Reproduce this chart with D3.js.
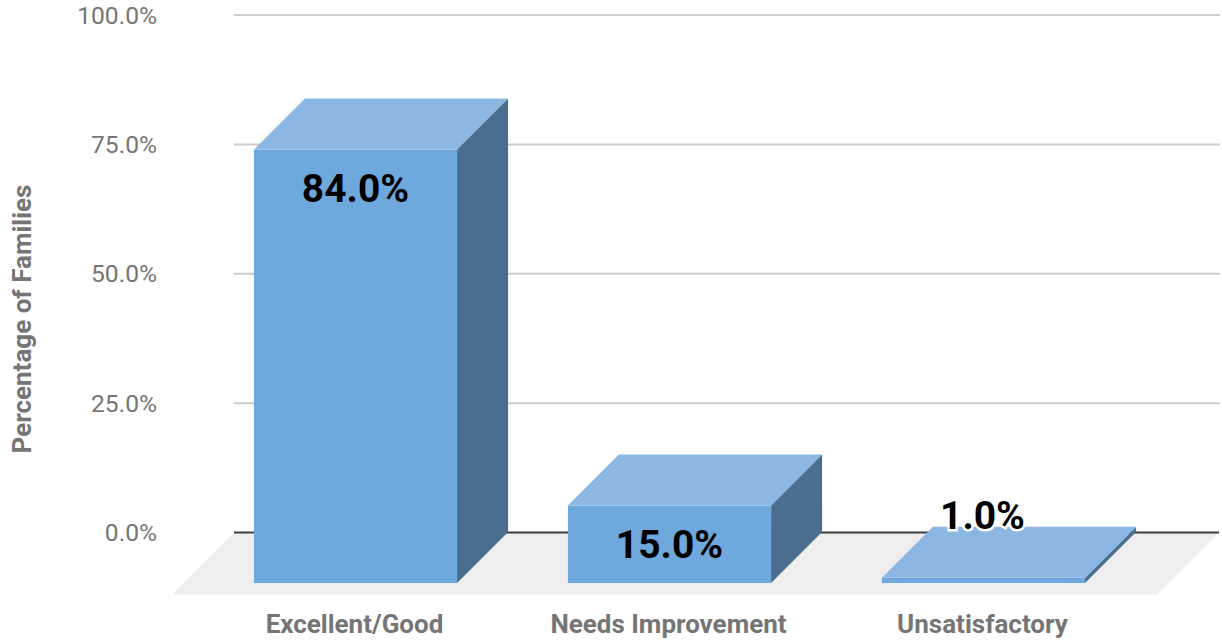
<!DOCTYPE html>
<html><head><meta charset="utf-8">
<script src="https://cdnjs.cloudflare.com/ajax/libs/d3/7.8.5/d3.min.js"></script>
<style>html,body{margin:0;padding:0;background:#fff}svg{display:block}text{font-family:Roboto,sans-serif}</style>
</head><body><svg id="c" width="1222" height="642"></svg>
<script>
const categories = ["Excellent/Good", "Needs Improvement", "Unsatisfactory"];
const values = [84, 15, 1];
const yTicks = [0, 25, 50, 75, 100];
const axisTitle = "Percentage of Families";

const svg = d3.select("#c");
const depth = 51;
const y = d3.scaleLinear().domain([0, 100]).range([532.5, 15]);
const x = d3.scaleBand().domain(categories).range([198.5, 1140.5]).paddingInner(0.353).paddingOuter(0.1765);
const fmt = d3.format(".1f");
const floorY = y(0) + 12 + 50;
const line = d3.line();

// floor
svg.append("path").attr("fill", "#eeeeee")
  .attr("d", line([[234, y(0)], [1219, y(0)], [1157, floorY], [172, floorY]]) + "Z");

// gridlines
svg.append("g").selectAll("line").data(yTicks.filter(t => t > 0)).join("line")
  .attr("x1", 234).attr("x2", 1220)
  .attr("y1", d => y(d)).attr("y2", d => y(d))
  .attr("stroke", "#cccccc").attr("stroke-width", 2);
svg.append("line").attr("x1", 234).attr("x2", 1219).attr("y1", y(0)).attr("y2", y(0))
  .attr("stroke", "#3d3d3d").attr("stroke-width", 2);

// tick labels
svg.append("g").selectAll("text").data(yTicks).join("text")
  .attr("x", 157).attr("y", d => y(d)).attr("dy", "0.35em")
  .attr("text-anchor", "end").attr("fill", "#757575").attr("font-size", 24.6)
  .text(d => fmt(d) + "%");

// bars
const bottom = y(0) + 50.5;
const h = d => (y(0) - y(d)) * 0.997;
const bars = svg.append("g").selectAll("g").data(categories.map((c, i) => ({c, v: values[i]}))).join("g");
bars.append("path").attr("fill", "#4a6d90").attr("d", d => {
  const r = x(d.c) + x.bandwidth(), t = bottom - h(d.v);
  return line([[r, t], [r + depth, t - depth], [r + depth, bottom - depth], [r, bottom]]) + "Z";
});
bars.append("path").attr("fill", "#8bb7e2").attr("d", d => {
  const l = x(d.c), r = l + x.bandwidth(), t = bottom - h(d.v);
  return line([[l, t], [l + depth, t - depth], [r + depth, t - depth], [r, t]]) + "Z";
});
bars.append("rect").attr("fill", "#6fa8dc")
  .attr("x", d => x(d.c)).attr("width", x.bandwidth())
  .attr("y", d => bottom - h(d.v)).attr("height", d => h(d.v));

// data labels
bars.append("text")
  .attr("x", d => x(d.c) + x.bandwidth() / 2 - (d.v < 5 ? 1 : 0))
  .attr("y", d => d.v < 5 ? 529 : bottom - h(d.v) + 52)
  .attr("text-anchor", "middle").attr("fill", "#000").attr("font-weight", 700).attr("font-size", 39)
  .attr("stroke", d => d.v < 5 ? "#fff" : "none").attr("stroke-width", 5).attr("paint-order", "stroke")
  .text(d => fmt(d.v) + "%");

// category labels
svg.append("g").selectAll("text").data(categories).join("text")
  .attr("x", d => x(d) + x.bandwidth() / 2 - 1).attr("y", 633)
  .attr("text-anchor", "middle").attr("fill", "#757575").attr("font-weight", 700).attr("font-size", 26)
  .text(d => d);

// axis title
svg.append("text").attr("transform", "translate(31,319) rotate(-90)")
  .attr("text-anchor", "middle").attr("fill", "#757575").attr("font-weight", 700).attr("font-size", 26)
  .text(axisTitle);
</script></body></html>
